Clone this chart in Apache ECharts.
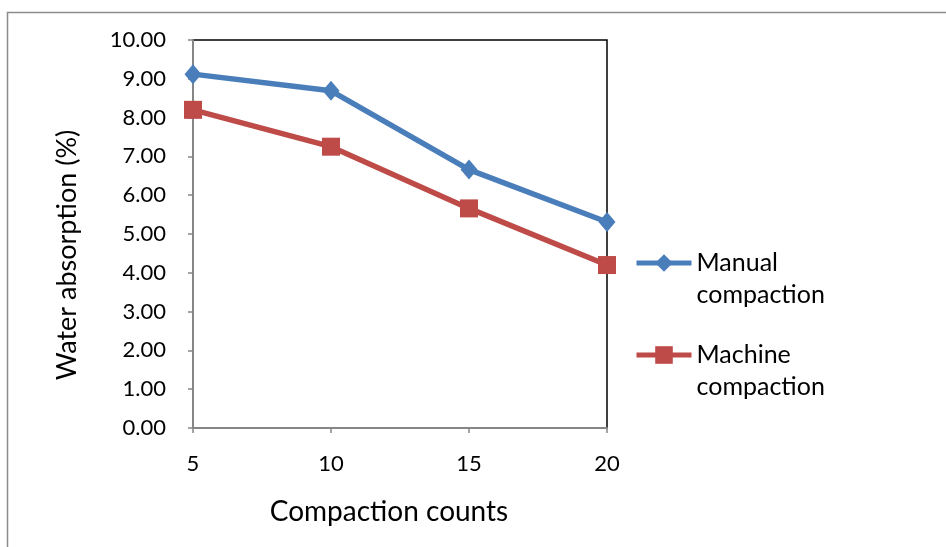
<!DOCTYPE html>
<html>
<head>
<meta charset="utf-8">
<script src="https://cdn.jsdelivr.net/npm/echarts@6/dist/echarts.min.js"></script>
<style>
html,body{margin:0;padding:0;background:#fff;}
#chart{width:946px;height:547px;}
</style>
</head>
<body>
<div id="chart"></div>
<script>
const categories = ['5', '10', '15', '20'];
const manualValues = [9.12, 8.69, 6.66, 5.31];
const machineValues = [8.20, 7.25, 5.66, 4.20];
const seriesNames = ['Manual\ncompaction', 'Machine\ncompaction'];

const FONT = 'Lato';
const chart = echarts.init(document.getElementById('chart'));
const legendText = { fontFamily: FONT, fontSize: 25, color: '#000', lineHeight: 32 };
const legendCommon = {
  left: 634, itemWidth: 55, itemHeight: 22, itemGap: 0, padding: 0,
  textStyle: legendText, lineStyle: { width: 5 },
  formatter: name => '\n' + name
};
chart.setOption({
  animation: false,
  backgroundColor: '#fff',
  graphic: [{
    type: 'rect', shape: { x: 7.5, y: 12.5, width: 1000, height: 600 },
    style: { fill: 'none', stroke: '#8c8c8c', lineWidth: 1.5 }, silent: true
  }],
  grid: {
    left: 193, right: 339, top: 40, bottom: 119,
    show: true, borderColor: '#000', borderWidth: 1.5, backgroundColor: 'transparent'
  },
  legend: [
    Object.assign({ data: [seriesNames[0]], top: 215 }, legendCommon),
    Object.assign({ data: [seriesNames[1]], top: 307 }, legendCommon)
  ],
  xAxis: {
    type: 'category', data: categories, boundaryGap: false,
    name: 'Compaction counts', nameLocation: 'middle', nameGap: 70,
    nameTextStyle: { fontFamily: FONT, fontSize: 28, color: '#000', padding: [0, 22, 0, 0] },
    axisLine: { lineStyle: { color: '#868686', width: 2 } },
    axisTick: { show: true, length: 5, lineStyle: { color: '#868686', width: 1.5 } },
    axisLabel: { fontFamily: FONT, fontSize: 22, color: '#000', margin: 25 },
    splitLine: { show: false }
  },
  yAxis: {
    type: 'value', min: 0, max: 10, interval: 1,
    name: 'Water absorption (%)', nameLocation: 'middle', nameGap: 112, nameRotate: 90,
    nameTextStyle: { fontFamily: FONT, fontSize: 27, color: '#000', padding: [0, 42, 0, 0] },
    axisLine: { show: true, lineStyle: { color: '#868686', width: 2 } },
    axisTick: { show: true, length: 5, lineStyle: { color: '#868686', width: 1.5 } },
    axisLabel: { fontFamily: FONT, fontSize: 22, color: '#000', margin: 27,
      formatter: v => v.toFixed(2) },
    splitLine: { show: false }
  },
  series: [{
    name: seriesNames[0], type: 'line', data: manualValues,
    symbol: 'diamond', symbolSize: [17, 20],
    lineStyle: { color: '#4A7EBB', width: 5.5 },
    itemStyle: { color: '#4A7EBB' }
  }, {
    name: seriesNames[1], type: 'line', data: machineValues,
    symbol: 'rect', symbolSize: 18,
    lineStyle: { color: '#BE4B48', width: 5.5 },
    itemStyle: { color: '#BE4B48' }
  }]
});
</script>
</body>
</html>
